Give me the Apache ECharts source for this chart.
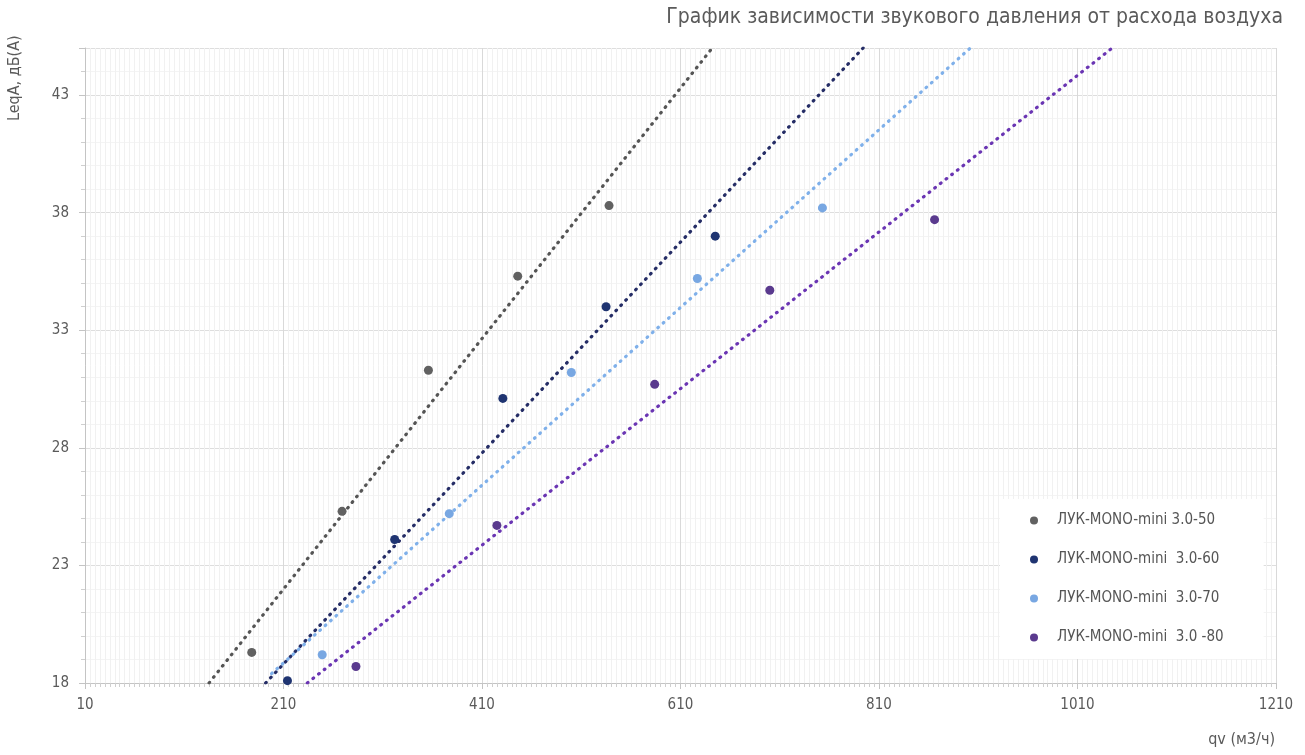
<!DOCTYPE html>
<html>
<head>
<meta charset="utf-8">
<title>LeqA vs qv</title>
<script src="https://cdn.jsdelivr.net/npm/echarts@6/dist/echarts.min.js"></script>
<style>
  html, body { margin: 0; padding: 0; background: #fff; }
  #chart { width: 1305px; height: 755px; }
</style>
</head>
<body>
<div id="chart"></div>
<script>
// series names (legend)
const names = [
  "ЛУК-MONO-mini 3.0-50",
  "ЛУК-MONO-mini  3.0-60",
  "ЛУК-MONO-mini  3.0-70",
  "ЛУК-MONO-mini  3.0 -80",
];
// measured points, qv (м3/ч)
const qv50 = [178, 269, 356, 446, 538];
const qv60 = [214, 322, 431, 535, 645];
const qv70 = [249, 377, 500, 627, 753];
const qv80 = [283, 425, 584, 700, 866];
// measured points, LeqA dB(A)
const leq50 = [19.3, 25.3, 31.3, 35.3, 38.3];
const leq60 = [18.1, 24.1, 30.1, 34.0, 37.0];
const leq70 = [19.2, 25.2, 31.2, 35.2, 38.2];
const leq80 = [18.7, 24.7, 30.7, 34.7, 37.7];
// trend lines, start and end [qv, LeqA]
const trend50 = [[135, 18], [642, 45]];
const trend60 = [[192, 18], [794, 45]];
const trend70 = [[198, 18.4], [902, 45]];
const trend80 = [[234, 18], [1045, 45]];
// axis ranges
const xMin = 10, xMax = 1210, xStep = 200;
const yMin = 18, yMax = 45, yStep = 5;

const colors = ["#616161", "#1f3471", "#78a7e2", "#5a3a8e"];
const trendColors = ["#555555", "#252d66", "#7fb0ea", "#6a35b3"];
const font = "'DejaVu Sans Condensed', 'DejaVu Sans', sans-serif";

function zip(xs, ys) {
  return xs.map((x, i) => [x, ys[i]]);
}

function initChart() {
  const chartInstance = echarts.init(document.getElementById("chart"));
  const points = [zip(qv50, leq50), zip(qv60, leq60), zip(qv70, leq70), zip(qv80, leq80)];
  const trends = [trend50, trend60, trend70, trend80];

  const series = [];
  trends.forEach((t, i) => {
    series.push({
      name: "trend " + i,
      type: "line",
      data: t,
      symbol: "none",
      silent: true,
      z: 2,
      lineStyle: {
        color: trendColors[i],
        width: 3.2,
        type: [0.8, 6.4],
        cap: "round",
      },
    });
  });
  points.forEach((p, i) => {
    series.push({
      name: names[i],
      type: "scatter",
      data: p,
      symbolSize: 9,
      z: 3,
      itemStyle: { color: colors[i], opacity: 1 },
    });
  });

  const option = {
    backgroundColor: "#fff",
    animation: false,
    color: colors,
    grid: {
      left: 85,
      right: 29,
      top: 48,
      bottom: 72,
    },
    legend: {
      data: names,
      orient: "vertical",
      left: 1000,
      top: 499,
      backgroundColor: "#fff",
      padding: [14, 40, 14, 30],
      icon: "circle",
      itemWidth: 8,
      itemHeight: 8,
      itemGap: 24,
      textStyle: {
        color: "#555",
        fontSize: 15,
        fontFamily: font,
        padding: [0, 0, 0, 14],
      },
    },
    xAxis: {
      type: "value",
      min: xMin,
      max: xMax,
      interval: xStep,
      axisLine: { show: true, lineStyle: { color: "#c4c4c4" } },
      axisTick: { show: true, length: 6, lineStyle: { color: "#c4c4c4" } },
      minorTick: { show: true, splitNumber: 40, length: 4, lineStyle: { color: "#cfcfcf" } },
      axisLabel: {
        color: "#5a5a5a",
        fontSize: 15,
        fontFamily: font,
        margin: 15,
        formatter: (v) => String(v),
      },
      splitLine: { show: true, lineStyle: { color: "#d9d9d9" } },
      minorSplitLine: { show: true, lineStyle: { color: "#f1f1f1" } },
    },
    yAxis: {
      type: "value",
      min: yMin,
      max: yMax,
      interval: yStep,
      axisLine: { show: true, lineStyle: { color: "#c4c4c4" } },
      axisTick: { show: true, length: 6, lineStyle: { color: "#c4c4c4" } },
      minorTick: { show: true, splitNumber: 5, length: 4, lineStyle: { color: "#cfcfcf" } },
      axisLabel: { color: "#5a5a5a", fontSize: 15, fontFamily: font, margin: 16, showMaxLabel: false },
      splitLine: { show: true, lineStyle: { color: "#dedede" } },
      minorSplitLine: { show: true, lineStyle: { color: "#f4f4f4" } },
    },
    graphic: [
      {
        type: "text",
        right: 22,
        top: 7,
        style: {
          text: "График зависимости звукового давления от расхода воздуха",
          fill: "#5a5a5a",
          fontSize: 21,
          fontFamily: font,
        },
      },
      {
        type: "text",
        x: 7,
        y: 121,
        rotation: Math.PI / 2,
        style: {
          text: "LeqA, дБ(А)",
          fill: "#5a5a5a",
          fontSize: 16,
          fontFamily: font,
        },
      },
      {
        type: "text",
        right: 30,
        top: 732,
        style: {
          text: "qv (м3/ч)",
          fill: "#5a5a5a",
          fontSize: 16,
          fontFamily: font,
        },
      },
    ],
    series: series,
  };
  chartInstance.setOption(option);
}

initChart();
</script>
</body>
</html>
